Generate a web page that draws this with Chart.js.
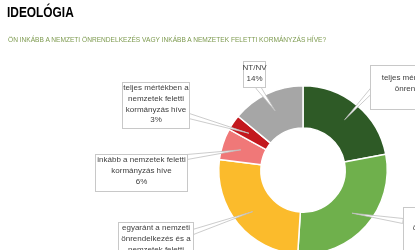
<!DOCTYPE html>
<html>
<head>
<meta charset="utf-8">
<script src="https://cdn.jsdelivr.net/npm/chart.js@4/dist/chart.umd.min.js"></script>
<style>
  html, body { margin: 0; padding: 0; background: #fff; overflow: hidden; }
  #wrap { position: relative; width: 415px; height: 300px; }
  #title { position: absolute; left: 7px; top: 4px; font: bold 14.5px "Liberation Sans", Arial, sans-serif; color: #000; transform: scaleX(0.82); transform-origin: 0 0; }
  #sub { position: absolute; left: 8px; top: 35.5px; font: 6.6px "Liberation Sans", Arial, sans-serif; color: #7d9a4f; white-space: nowrap; }
  canvas { position: absolute; left: 0; top: 0; }
</style>
</head>
<body>
<div id="wrap">
  <canvas id="c" width="415" height="300"></canvas>
  <div id="title">IDEOLÓGIA</div>
  <div id="sub">ÖN INKÁBB A NEMZETI ÖNRENDELKEZÉS VAGY INKÁBB A NEMZETEK FELETTI KORMÁNYZÁS HÍVE?</div>
</div>
<script>
const categories = [
  "teljes mértékben a nemzeti önrendelkezés híve",
  "inkább a nemzeti önrendelkezés híve",
  "egyaránt a nemzeti önrendelkezés és a nemzetek feletti kormányzás híve",
  "inkább a nemzetek feletti kormányzás híve",
  "teljes mértékben a nemzetek feletti kormányzás híve",
  "NT/NV"
];
const values = [22, 29, 26, 6, 3, 14];
const colors = ["#2e5a26", "#6fb04c", "#fbbb2c", "#f07878", "#c3181e", "#a6a6a6"];

// callout boxes (layout only)
const boxes = [
  { x: 370, y: 65, w: 118, h: 44, wrap: 112, ty: 78, ax: 374, ay: 88 },
  { x: 403, y: 207, w: 88, h: 44, wrap: 82, ty: 217, ax: 403, ay: 221 },
  { x: 118, y: 222, w: 75, h: 55, wrap: 73, ty: 228, ax: 193, ay: 232 },
  { x: 95, y: 154, w: 92, h: 37, wrap: 92, ty: 160, ax: 187, ay: 157 },
  { x: 122, y: 82, w: 67, h: 46, wrap: 66, ty: 88, ax: 189, ay: 116 },
  { x: 243, y: 61, w: 22, h: 26, wrap: 30, ty: 68, ax: 258, ay: 87 }
];
const FONT = '8px "Liberation Sans", Arial, sans-serif';
const LH = 10.7;

function wrapText(ctx, text, maxW) {
  const words = text.split(' ');
  const lines = [];
  let cur = '';
  for (const w of words) {
    const t = cur ? cur + ' ' + w : w;
    if (ctx.measureText(t).width > maxW && cur) { lines.push(cur); cur = w; }
    else cur = t;
  }
  if (cur) lines.push(cur);
  return lines;
}

const callouts = {
  id: 'callouts',
  afterDatasetsDraw(chart) {
    const ctx = chart.ctx;
    const meta = chart.getDatasetMeta(0);
    ctx.save();
    ctx.font = FONT;
    meta.data.forEach((arc, i) => {
      const b = boxes[i];
      const p = arc.getProps(['x', 'y', 'startAngle', 'endAngle', 'innerRadius', 'outerRadius'], true);
      const mid = (p.startAngle + p.endAngle) / 2;
      const r = p.innerRadius + (p.outerRadius - p.innerRadius) * 0.55;
      const tx = p.x + Math.cos(mid) * r;
      const ty = p.y + Math.sin(mid) * r;
      const dx = tx - b.ax, dy = ty - b.ay;
      const len = Math.hypot(dx, dy) || 1;
      const nx = -dy / len * 2.5, ny = dx / len * 2.5;
      ctx.beginPath();
      ctx.moveTo(b.ax + nx, b.ay + ny);
      ctx.lineTo(tx, ty);
      ctx.lineTo(b.ax - nx, b.ay - ny);
      ctx.closePath();
      ctx.fillStyle = '#ffffff';
      ctx.fill();
      ctx.strokeStyle = '#bfbfbf';
      ctx.lineWidth = 0.8;
      ctx.stroke();
      ctx.fillStyle = '#ffffff';
      ctx.fillRect(b.x, b.y, b.w, b.h);
      ctx.strokeStyle = '#c8c8c8';
      ctx.lineWidth = 1;
      ctx.strokeRect(b.x + 0.5, b.y + 0.5, b.w, b.h);
      const lines = wrapText(ctx, categories[i], b.wrap);
      lines.push(values[i] + '%');
      ctx.fillStyle = '#404040';
      ctx.textAlign = 'center';
      ctx.textBaseline = 'middle';
      const cx = b.x + b.w / 2 + 0.5;
      lines.forEach((l, k) => ctx.fillText(l, cx, b.ty + k * LH));
    });
    ctx.restore();
  }
};

new Chart(document.getElementById('c'), {
  type: 'doughnut',
  data: {
    labels: categories,
    datasets: [{
      data: values,
      backgroundColor: colors,
      borderColor: '#ffffff',
      borderWidth: 1.5
    }]
  },
  options: {
    responsive: false,
    animation: false,
    cutout: '50%',
    layout: { padding: { left: 218, right: 27, top: 85, bottom: 45 } },
    plugins: { legend: { display: false }, tooltip: { enabled: false }, title: { display: false } }
  },
  plugins: [callouts]
});
</script>
</body>
</html>
